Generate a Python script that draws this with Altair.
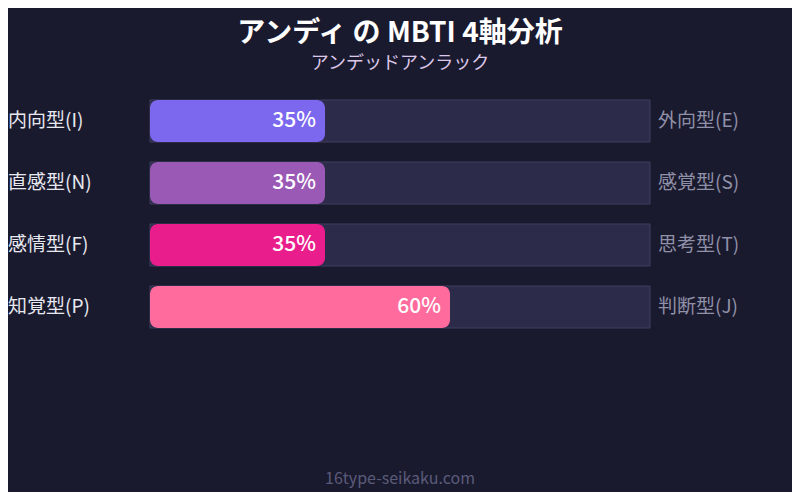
import altair as alt
import pandas as pd

left_labels = ["内向型(I)", "直感型(N)", "感情型(F)", "知覚型(P)"]
right_labels = ["外向型(E)", "感覚型(S)", "思考型(T)", "判断型(J)"]
values = [35, 35, 35, 60]
colors = ["#7b68ee", "#9b59b6", "#e91e8c", "#ff6b9d"]
title_text = "アンディ の MBTI 4軸分析"
subtitle_text = "アンデッドアンラック"
footer_text = "16type-seikaku.com"

FONT = "Noto Sans CJK JP"
OX, OY = 8, 8  # page margin offset

df = pd.DataFrame({
    "row": list(range(len(values))),
    "left": left_labels,
    "right": right_labels,
    "value": values,
    "zero": [0] * len(values),
    "full": [100] * len(values),
    "pct": [f"{v}%" for v in values],
    "color": colors,
})

xs = alt.Scale(domain=[0, 100], range=[150 - OX, 650 - OX], padding=0)
ys = alt.Scale(domain=[0, 3], range=[121 - OY, 307 - OY], zero=False, padding=0, nice=False)
X = lambda f: alt.X(f, type="quantitative", scale=xs, axis=None)
Y = alt.Y("row:Q", scale=ys, axis=None)

base = alt.Chart(df)

track = base.mark_bar(size=42, color="#2d2b4a", stroke="#3f3e5e", strokeWidth=1).encode(
    x=X("zero"), x2="full", y=Y
)
fill = base.mark_bar(size=42, cornerRadius=8).encode(
    x=X("zero"), x2="value", y=Y, color=alt.Color("color:N", scale=None)
)
pct = base.mark_text(align="right", baseline="middle", dx=-9, fontSize=21, fontWeight=500,
                     color="#ffffff", font=FONT).encode(x=X("value"), y=Y, text="pct:N")
left = base.mark_text(align="left", baseline="middle", fontSize=19, color="#e8e8f0", font=FONT).encode(
    x=alt.value(0), y=Y, text="left:N"
)
right = base.mark_text(align="left", baseline="middle", fontSize=19, color="#9090a8", font=FONT).encode(
    x=alt.value(658 - OX), y=Y, text="right:N"
)

tdf = pd.DataFrame({"t": [title_text], "s": [subtitle_text], "f": [footer_text]})
tbase = alt.Chart(tdf)
title = tbase.mark_text(align="center", baseline="middle", fontSize=28, fontWeight="bold",
                        color="#ffffff", font=FONT).encode(
    x=alt.value(400 - OX), y=alt.value(34 - OY), text="t:N")
subtitle = tbase.mark_text(align="center", baseline="middle", fontSize=18,
                           color="#dcc8ea", font=FONT).encode(
    x=alt.value(400 - OX), y=alt.value(64 - OY), text="s:N")
footer = tbase.mark_text(align="center", baseline="middle", fontSize=16,
                         color="#5a5a7a", font=FONT).encode(
    x=alt.value(400 - OX), y=alt.value(479 - OY), text="f:N")

chart = alt.layer(track, fill, pct, left, right, title, subtitle, footer).properties(
    width=800 - 2 * OX, height=500 - 2 * OY, padding=0, background="#1a1a2e",
    autosize=alt.AutoSizeParams(type="none"),
).configure_view(stroke=None)

chart.save("out.html", embed_options={"renderer": "svg", "actions": False})
